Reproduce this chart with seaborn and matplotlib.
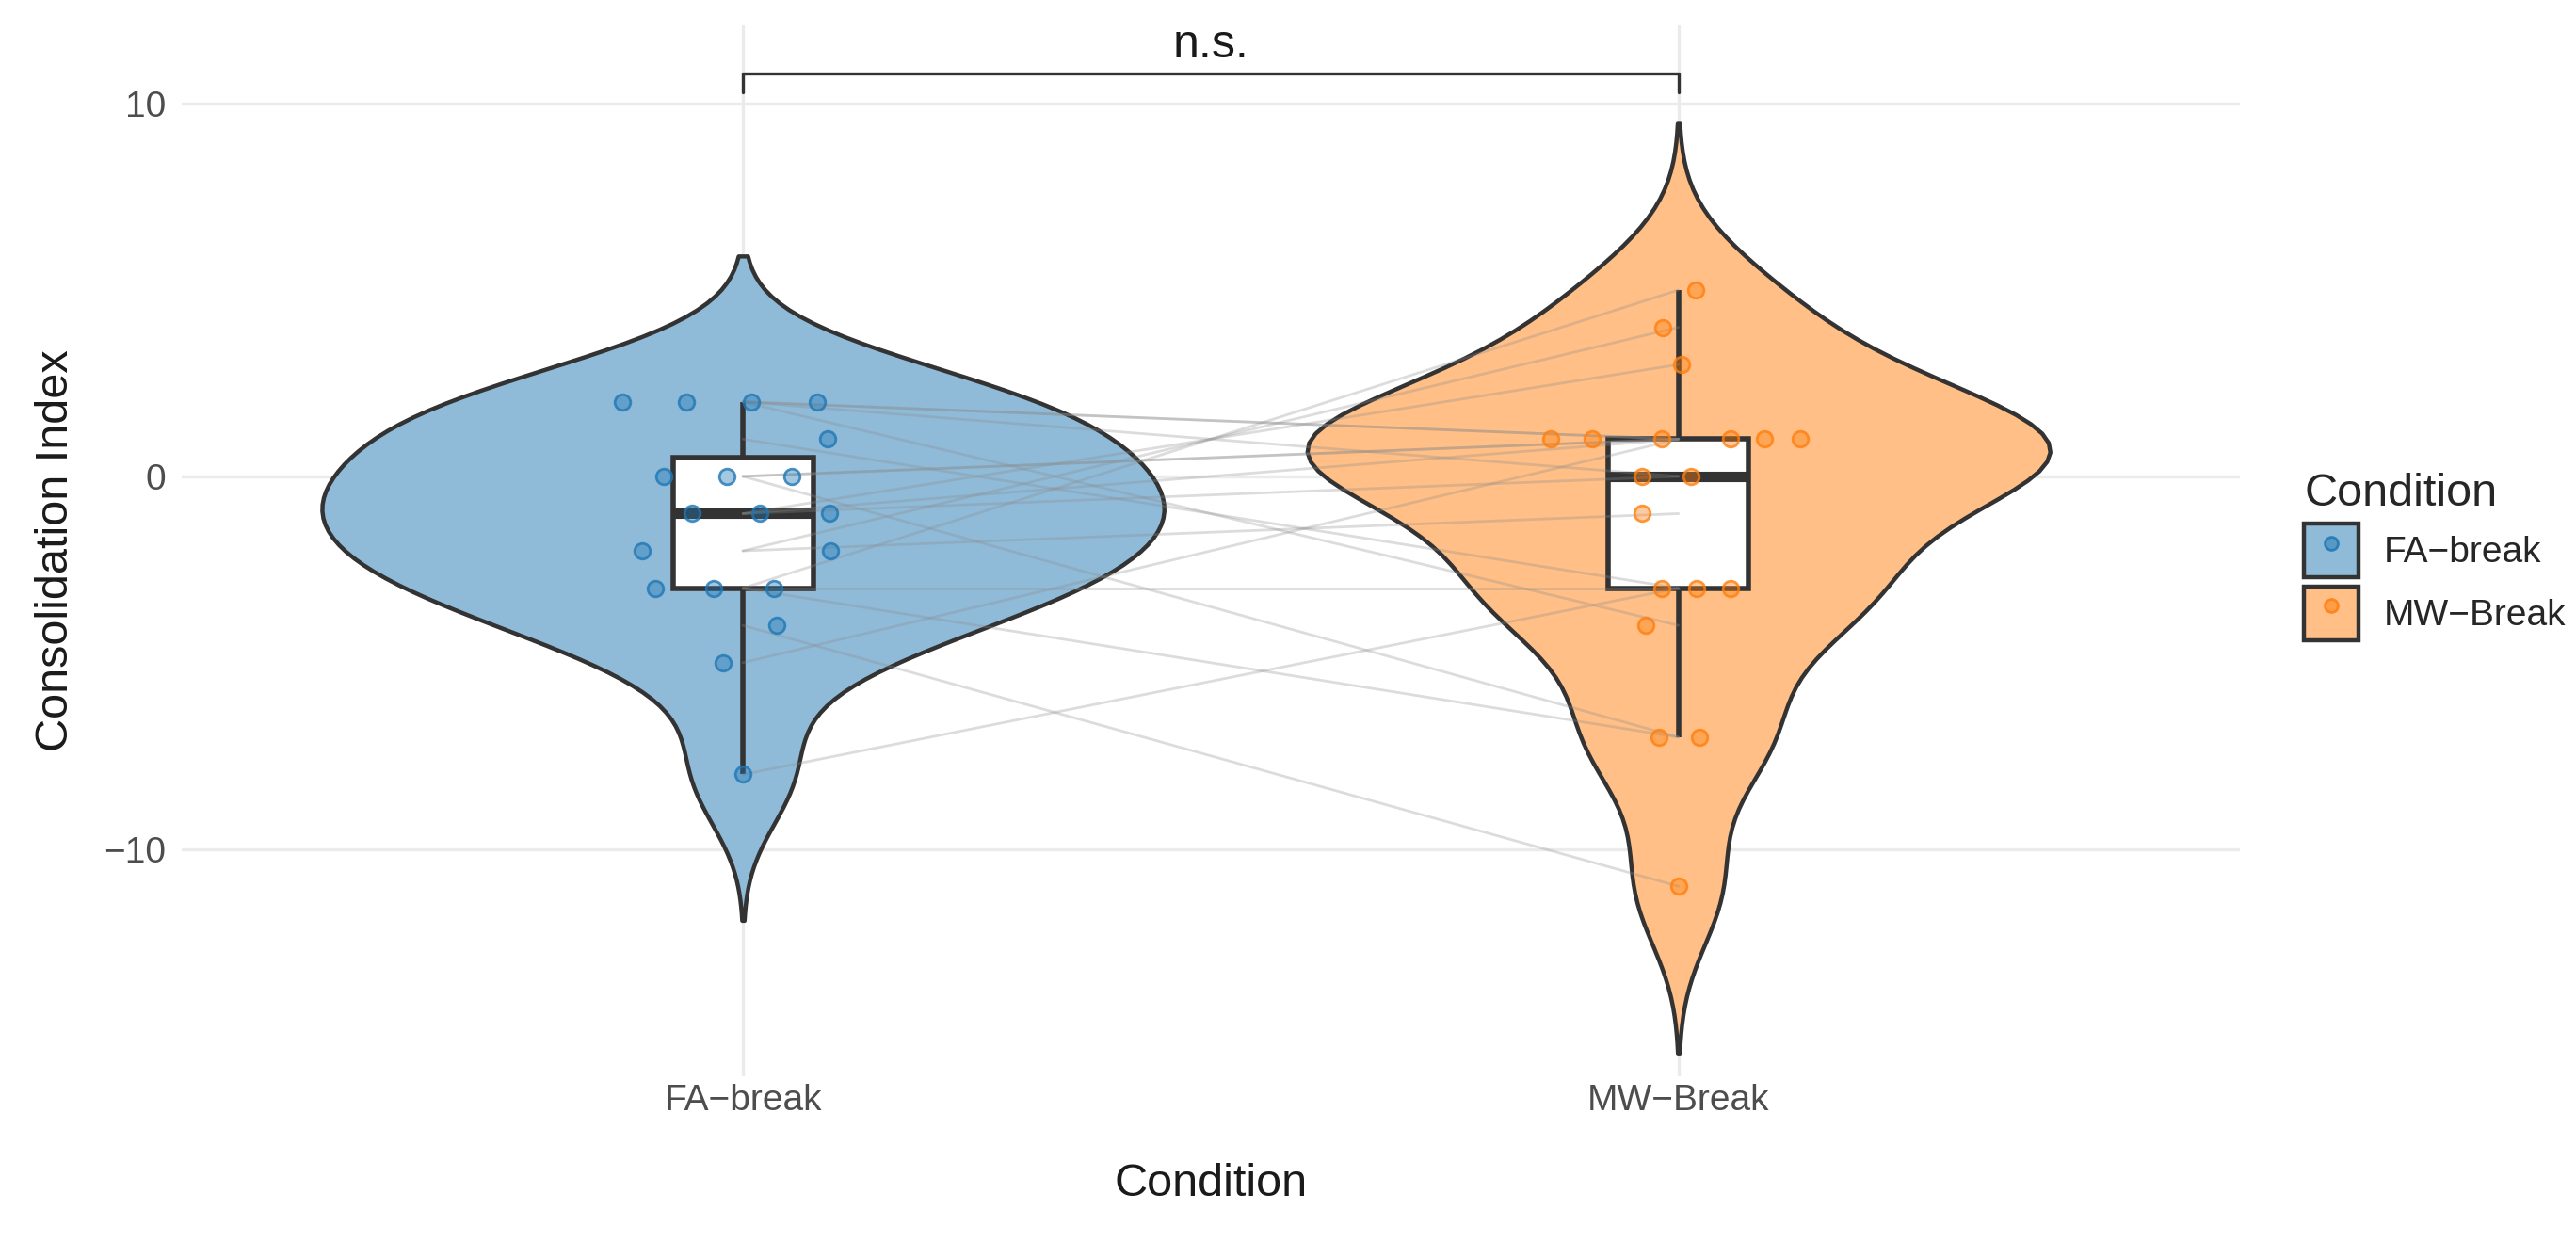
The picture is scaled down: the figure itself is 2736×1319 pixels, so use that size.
import numpy as np
import pandas as pd
import seaborn as sns
import matplotlib.pyplot as plt
from matplotlib.colors import to_rgba
from matplotlib.patches import Patch
from matplotlib.lines import Line2D
from matplotlib.legend_handler import HandlerTuple

# Data (one value per participant, paired by position)
conditions = ["FA−break", "MW−Break"]
fa_scores = [-8, -4, -3, 0, -3, 2, 1, -2, -2, -3, -5, -1, 2, 2, 2, 0, 0, -1, -1]
mw_scores = [-3, -11, -7, -7, -3, -4, -3, -1, 4, 5, 1, 3, 1, 1, 0, 1, 1, 0, 1]
# horizontal jitter of each dot, as seen in the picture
fa_jitter = [0.000, 0.036, -0.094, -0.085, -0.031, -0.129, 0.090, -0.108, 0.094, 0.033,
             -0.021, -0.054, -0.060, 0.009, 0.079, -0.017, 0.052, 0.018, 0.093]
mw_jitter = [-0.018, 0.000, -0.021, 0.022, 0.019, -0.035, 0.056, -0.039, -0.017, 0.018,
             -0.137, 0.003, -0.092, -0.018, -0.039, 0.056, 0.092, 0.013, 0.130]
y_ticks = [-10, 0, 10]
sig_label = "n.s."
sig_y = 10.8
sig_tip = 0.5

fill_colors = ["#8FBBD9", "#FFBF86"]
point_colors = ["#1F77B4", "#FF7F0E"]
dark = "#333333"
bw_adjust = 1.1

sns.set_style("white")
plt.rcParams["font.family"] = ["Liberation Sans", "DejaVu Sans"]

n = len(fa_scores)
df = pd.DataFrame({
    "subject": list(range(n)) * 2,
    "Condition": [conditions[0]] * n + [conditions[1]] * n,
    "Score": fa_scores + mw_scores,
    "jitter": fa_jitter + mw_jitter,
})
df["pos"] = df["Condition"].map({c: i for i, c in enumerate(conditions)})


def nrd0(x):
    # R's default bandwidth, as used by ggplot's violins
    x = np.asarray(x, float)
    sd = x.std(ddof=1)
    iqr = np.subtract(*np.percentile(x, [75, 25]))
    return 0.9 * min(sd, iqr / 1.34) * len(x) ** -0.2


def peak_density(x, bw):
    x = np.asarray(x, float)
    grid = np.linspace(x.min() - 3 * bw, x.max() + 3 * bw, 512)
    z = (grid[:, None] - x[None, :]) / bw
    dens = np.exp(-0.5 * z ** 2).sum(1) / (len(x) * bw * np.sqrt(2 * np.pi))
    return dens.max()


groups = [df[df["Condition"] == c] for c in conditions]
bws = [nrd0(g["Score"]) for g in groups]
peaks = [peak_density(g["Score"], bw * bw_adjust) for g, bw in zip(groups, bws)]
widths = [0.9 * p / max(peaks) for p in peaks]

fig, ax = plt.subplots(figsize=(13.68, 6.595), dpi=200)
fig.subplots_adjust(left=0.0705, right=0.8695, top=0.9795, bottom=0.1334)

# Violins (one call per group so each gets its own bandwidth)
for g, bw, w, fc in zip(groups, bws, widths, fill_colors):
    sns.violinplot(data=g, x="Condition", y="Score", order=conditions,
                   bw_method=bw / g["Score"].std(ddof=1), bw_adjust=bw_adjust,
                   cut=3 / bw_adjust, width=w, inner=None, color=fc,
                   saturation=1, linecolor=dark, linewidth=1.6, ax=ax)

# Boxplots
sns.boxplot(data=df, x="Condition", y="Score", order=conditions, width=0.15,
            color="white", saturation=1, linecolor=dark, linewidth=2.0,
            showfliers=False, showcaps=False,
            medianprops={"linewidth": 4.0}, ax=ax)

# Paired lines
sns.lineplot(data=df, x="pos", y="Score", units="subject", estimator=None,
             color="#8C8C8C", alpha=0.3, linewidth=1.0, legend=False,
             ax=ax, zorder=3)

# Jittered points
for g, pc in zip(groups, point_colors):
    sns.scatterplot(x=g["pos"] + g["jitter"], y=g["Score"], ax=ax, s=36,
                    color=to_rgba(pc, 0.4), edgecolor=to_rgba(pc, 0.8),
                    linewidth=1.0, legend=False, zorder=4)

# Significance bracket
ax.plot([0, 0, 1, 1], [sig_y - sig_tip, sig_y, sig_y, sig_y - sig_tip],
        color=dark, lw=1.2, zorder=5)
ax.text(0.5, sig_y + 0.2, sig_label, ha="center", va="bottom", fontsize=18,
        color="#1A1A1A")

ax.set_xlim(-0.6, 1.6)
ax.set_ylim(-16.1, 12.1)
ax.set_yticks(y_ticks)
ax.set_xticks(range(len(conditions)))
ax.set_xticklabels(conditions)
ax.grid(True, color="#EBEBEB", linewidth=1.2)
ax.set_axisbelow(True)
sns.despine(ax=ax, left=True, bottom=True)
ax.tick_params(length=0, labelsize=14, labelcolor="#4D4D4D")
ax.tick_params(axis="x", pad=3)
ax.tick_params(axis="y", pad=6)
ax.set_xlabel("Condition", fontsize=17.5, labelpad=17, color="#1A1A1A")
ax.set_ylabel("Consolidation Index", fontsize=17.5, labelpad=10, color="#1A1A1A")

# Legend
handles = [
    (Patch(facecolor=fc, edgecolor=dark, linewidth=1.6),
     Line2D([], [], marker="o", linestyle="", markersize=5,
            markerfacecolor=to_rgba(pc, 0.5), markeredgecolor=to_rgba(pc, 0.85)))
    for fc, pc in zip(fill_colors, point_colors)
]
ax.legend(handles, conditions, title="Condition",
          handler_map={tuple: HandlerTuple(ndivide=1, pad=0)},
          loc="upper left", bbox_to_anchor=(0.8944, 0.6194),
          bbox_transform=fig.transFigure, frameon=False, fontsize=14,
          title_fontsize=17.5, handlelength=1.5, handleheight=1.876,
          labelspacing=0.24, handletextpad=0.67, borderpad=0,
          borderaxespad=0, alignment="left")

plt.savefig("out.png", dpi=200)
plt.close()
